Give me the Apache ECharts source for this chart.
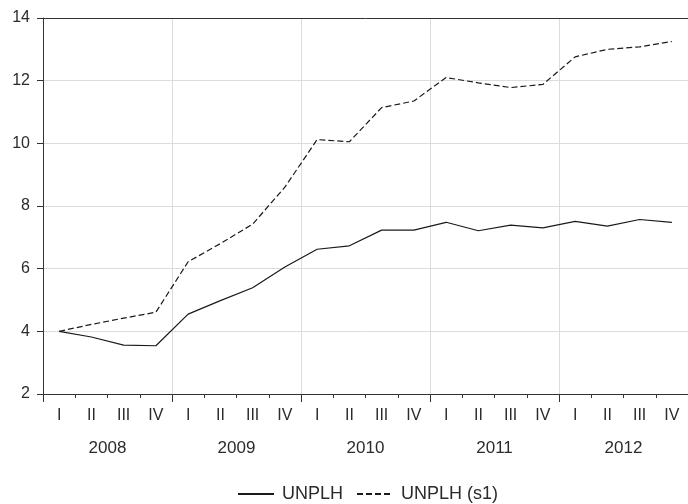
<!DOCTYPE html>
<html>
<head>
<meta charset="utf-8">
<script src="https://cdn.jsdelivr.net/npm/echarts@6/dist/echarts.min.js"></script>
<style>
  html, body { margin: 0; padding: 0; background: #fff; }
  #chart { width: 688px; height: 504px; }
</style>
</head>
<body>
<div id="chart"></div>
<script>
// Quarterly observations, 2008Q1 – 2012Q4
const years = ['2008', '2009', '2010', '2011', '2012'];
const quarterNames = ['I', 'II', 'III', 'IV'];
const categories = [];
years.forEach(y => quarterNames.forEach(q => categories.push(y + ' ' + q)));

const unplh = [4.00, 3.82, 3.56, 3.54, 4.55, 4.98, 5.39, 6.05, 6.62, 6.73,
               7.23, 7.23, 7.48, 7.21, 7.39, 7.30, 7.51, 7.36, 7.57, 7.48];
const unplhS1 = [4.00, 4.22, 4.42, 4.61, 6.22, 6.80, 7.42, 8.60, 10.12, 10.05,
                 11.14, 11.35, 12.10, 11.93, 11.78, 11.88, 12.76, 13.00, 13.08, 13.25];

const yTicks = { min: 2, max: 14, step: 2 };

const textColor = '#2b2b2b';
const fontFamily = 'Liberation Sans, Arial, sans-serif';
const gridColor = '#dcdcdc';
const axisColor = '#333';

const chart = echarts.init(document.getElementById('chart'), null, { renderer: 'canvas' });

chart.setOption({
  animation: false,
  backgroundColor: '#fff',
  textStyle: { fontFamily: fontFamily },
  grid: { left: 43, top: 18, width: 648, height: 376, containLabel: false },
  legend: {
    bottom: -4,
    left: 232,
    itemWidth: 36,
    itemHeight: 10,
    itemGap: 13,
    textStyle: { fontSize: 18, color: textColor, fontFamily: fontFamily, padding: [0, 0, 0, 3] },
    itemStyle: { opacity: 0 },
    data: ['UNPLH', 'UNPLH (s1)']
  },
  xAxis: [
    {
      // quarter axis
      type: 'category',
      data: categories,
      boundaryGap: true,
      position: 'bottom',
      axisLine: { show: true, lineStyle: { color: axisColor, width: 1 } },
      axisTick: { show: true, length: 4, interval: 0, lineStyle: { color: axisColor } },
      axisLabel: {
        interval: 0, margin: 14, fontSize: 16, color: textColor,
        formatter: v => v.split(' ')[1]
      },
      splitLine: { show: false }
    },
    {
      // year axis: labels, long ticks and vertical separators
      type: 'category',
      data: years,
      boundaryGap: true,
      position: 'bottom',
      axisLine: { show: false },
      axisTick: { show: true, length: 8, interval: 0, lineStyle: { color: axisColor } },
      axisLabel: { interval: 0, margin: 46, fontSize: 17, color: textColor },
      splitLine: { show: true, interval: 0, lineStyle: { color: gridColor, width: 1 } }
    },
    {
      // top frame line
      type: 'category',
      data: categories,
      position: 'top',
      axisLine: { show: true, lineStyle: { color: axisColor, width: 1 } },
      axisTick: { show: false },
      axisLabel: { show: false },
      splitLine: { show: false }
    }
  ],
  yAxis: {
    type: 'value',
    min: yTicks.min,
    max: yTicks.max,
    interval: yTicks.step,
    axisLine: { show: true, lineStyle: { color: axisColor, width: 1 } },
    axisTick: { show: true, length: 6, lineStyle: { color: axisColor } },
    axisLabel: { fontSize: 16, color: textColor, margin: 13 },
    splitLine: { show: true, lineStyle: { color: gridColor, width: 1 } }
  },
  series: [
    {
      name: 'UNPLH',
      type: 'line',
      xAxisIndex: 0,
      data: unplh,
      symbol: 'none',
      lineStyle: { color: '#1a1a1a', width: 1.2, type: 'solid' },
      itemStyle: { color: '#1a1a1a' }
    },
    {
      name: 'UNPLH (s1)',
      type: 'line',
      xAxisIndex: 0,
      data: unplhS1,
      symbol: 'none',
      lineStyle: { color: '#1a1a1a', width: 1.2, type: [6, 3] },
      itemStyle: { color: '#1a1a1a' }
    }
  ]
});
</script>
</body>
</html>
